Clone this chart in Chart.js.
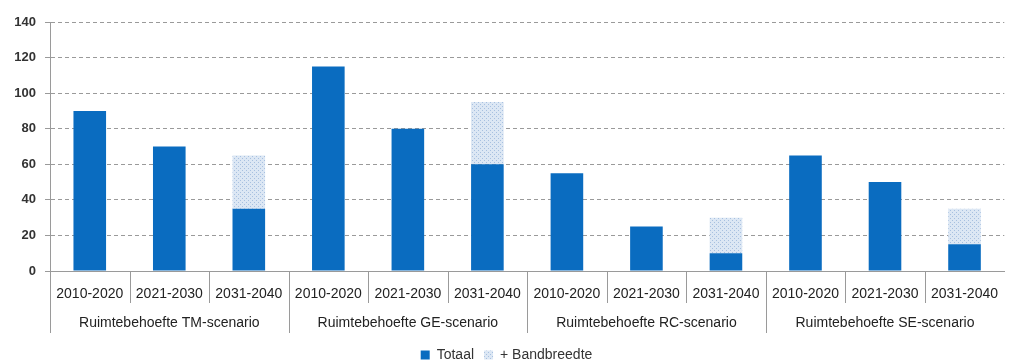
<!DOCTYPE html>
<html>
<head>
<meta charset="utf-8">
<script src="https://cdn.jsdelivr.net/npm/chart.js@4/dist/chart.umd.min.js"></script>
<style>
html,body{margin:0;padding:0;background:#fff;}
#wrap{width:1013px;height:360px;position:relative;}
</style>
</head>
<body>
<div id="wrap"><canvas id="c" width="1013" height="360"></canvas></div>
<script>
const categories = ['2010-2020','2021-2030','2031-2040','2010-2020','2021-2030','2031-2040','2010-2020','2021-2030','2031-2040','2010-2020','2021-2030','2031-2040'];
const groups = ['Ruimtebehoefte TM-scenario','Ruimtebehoefte GE-scenario','Ruimtebehoefte RC-scenario','Ruimtebehoefte SE-scenario'];
const totaal = [90,70,35,115,80,60,55,25,10,65,50,15];
const bandbreedte = [0,0,30,0,0,35,0,0,20,0,0,20];
const yMin = 0, yMax = 140, yStep = 20;

function makePattern(){
  const c = document.createElement('canvas'); c.width = 4; c.height = 4;
  const g = c.getContext('2d');
  g.fillStyle = '#dce7f4'; g.fillRect(0,0,4,4);
  g.fillStyle = '#a7c0e0'; g.fillRect(0,0,1,1); g.fillRect(2,2,1,1);
  return g.createPattern(c,'repeat');
}

const FONT = "'Liberation Sans', Arial, sans-serif";

const separators = {
  id:'separators',
  afterDraw(chart){
    const x = chart.scales.x, ctx = chart.ctx, ca = chart.chartArea;
    ctx.save();
    ctx.strokeStyle = '#9a9a9a'; ctx.lineWidth = 1;
    ctx.beginPath(); ctx.moveTo(Math.round(ca.left)+0.5, ca.bottom); ctx.lineTo(Math.round(ca.left)+0.5, 333); ctx.stroke();
    for (let i = 0; i < categories.length - 1; i++){
      const px = Math.round((x.getPixelForValue(i) + x.getPixelForValue(i+1)) / 2) + 0.5;
      const long = (i + 1) % 3 === 0;
      ctx.beginPath(); ctx.moveTo(px, ca.bottom); ctx.lineTo(px, long ? 333 : 303); ctx.stroke();
    }
    ctx.restore();
  }
};

new Chart(document.getElementById('c'), {
  type:'bar',
  data:{
    labels:categories,
    datasets:[
      {label:'Totaal', data:totaal, backgroundColor:'#0a6cc0', barPercentage:0.41, categoryPercentage:1, stack:'s'},
      {label:'+ Bandbreedte', data:bandbreedte, backgroundColor:makePattern(), barPercentage:0.41, categoryPercentage:1, stack:'s'}
    ]
  },
  options:{
    responsive:false, animation:false,
    layout:{padding:{top:22,right:0,left:0,bottom:-12}},
    plugins:{
      legend:{position:'bottom', labels:{font:{family:FONT,size:14}, color:'#333', boxWidth:9, boxHeight:9, padding:10}},
      tooltip:{enabled:false}
    },
    scales:{
      x:{
        stacked:true,
        grid:{display:false, drawTicks:false},
        border:{display:true, color:'#9a9a9a'},
        ticks:{font:{family:FONT,size:14}, color:'#222', padding:15, maxRotation:0, autoSkip:false},
        afterFit(s){ s.height = 37; }
      },
      x2:{
        type:'category', labels:groups, position:'bottom', offset:true,
        grid:{display:false, drawTicks:false},
        border:{display:false},
        ticks:{font:{family:FONT,size:14}, color:'#222', padding:7, maxRotation:0, autoSkip:false},
        afterFit(s){ s.height = 30; }
      },
      y:{
        stacked:true, min:yMin, max:yMax,
        ticks:{stepSize:yStep, font:{family:FONT,size:13,weight:'bold'}, color:'#333', padding:9},
        grid:{color:'#9a9a9a', tickLength:5, tickColor:'#9a9a9a'},
        border:{display:true, color:'#9a9a9a', dash:[4,3]},
        afterFit(s){ s.width = 50; }
      }
    }
  },
  plugins:[separators]
});
</script>
</body>
</html>
